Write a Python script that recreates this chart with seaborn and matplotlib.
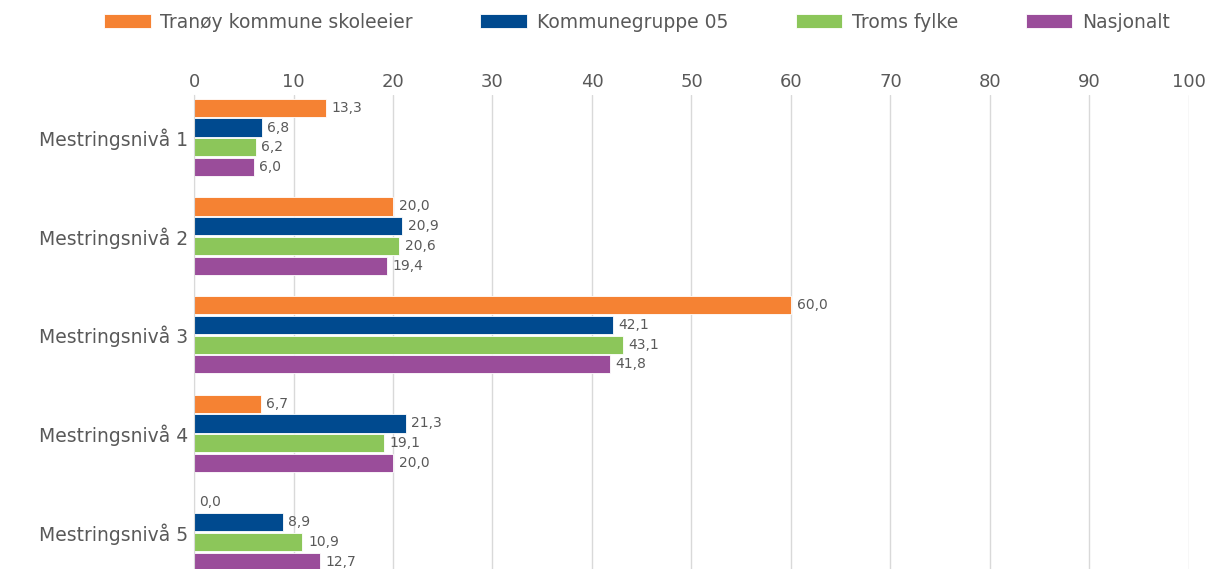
import matplotlib
matplotlib.use("Agg")
import matplotlib.pyplot as plt
import seaborn as sns
import pandas as pd

categories = ["Mestringsnivå 1", "Mestringsnivå 2", "Mestringsnivå 3", "Mestringsnivå 4", "Mestringsnivå 5"]
series_names = ["Tranøy kommune skoleeier", "Kommunegruppe 05", "Troms fylke", "Nasjonalt"]
tranoy = [13.3, 20.0, 60.0, 6.7, 0.0]
kommunegruppe = [6.8, 20.9, 42.1, 21.3, 8.9]
troms = [6.2, 20.6, 43.1, 19.1, 10.9]
nasjonalt = [6.0, 19.4, 41.8, 20.0, 12.7]
colors = ["#F58233", "#004A8F", "#8CC65A", "#9A4D9A"]
xticks = [0, 10, 20, 30, 40, 50, 60, 70, 80, 90, 100]

rows = []
for name, vals in zip(series_names, [tranoy, kommunegruppe, troms, nasjonalt]):
    for c, v in zip(categories, vals):
        rows.append({"cat": c, "series": name, "value": v})
df = pd.DataFrame(rows)

sns.set_style("white")
plt.rcParams['font.family'] = ['DejaVu Sans']
txt = "#595959"

fig = plt.figure(figsize=(12.13, 5.69), dpi=100)
ax = fig.add_axes([194/1213, 0, (1189-194)/1213, (569-95)/569])

sns.barplot(data=df, y="cat", x="value", hue="series", orient="h",
            palette=colors, saturation=1, width=0.8, gap=0.08, ax=ax,
            edgecolor="white", linewidth=0.6, legend=True)

ax.set_xlim(0, 100)
ax.set_ylim(4.375, -0.43)
ax.set_xticks(xticks)
ax.xaxis.tick_top()
ax.tick_params(axis="x", length=0, labelsize=13, colors=txt, pad=3)
ax.tick_params(axis="y", length=0, labelsize=13.5, colors=txt, pad=4)
ax.set_xlabel("")
ax.set_ylabel("")
ax.grid(axis="x", color="#D9D9D9", linewidth=1)
ax.set_axisbelow(True)
for s in ["top", "right", "bottom"]:
    ax.spines[s].set_visible(False)
ax.spines["left"].set_color("#D9D9D9")

for cont in ax.containers:
    labels = [f"{w:.1f}".replace(".", ",") for w in cont.datavalues]
    ax.bar_label(cont, labels=labels, padding=4, fontsize=10, color=txt)

handles, labels = ax.get_legend_handles_labels()
ax.legend_.remove()
fig.legend(handles, labels, loc="center", bbox_to_anchor=(0.525, 1 - 22/569),
           ncol=4, frameon=False, fontsize=13.5, handlelength=2.5, handleheight=0.8,
           columnspacing=3.6, handletextpad=0.5, labelcolor=txt)

fig.savefig("out.png", dpi=100)
